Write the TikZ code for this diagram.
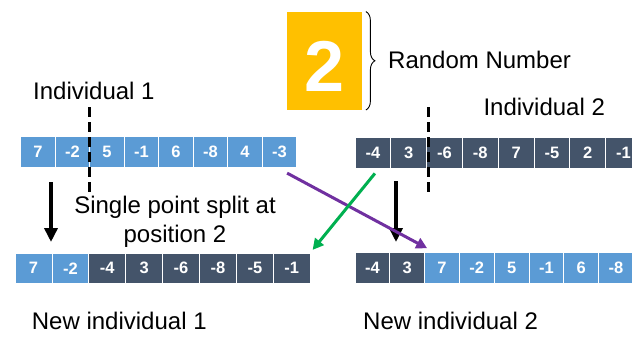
\documentclass[tikz,border=0pt]{standalone}
\usepackage{fontspec}
\setmainfont{Liberation Sans}
\usetikzlibrary{arrows.meta,decorations.pathreplacing}

\definecolor{lightcell}{HTML}{5B9BD5}
\definecolor{darkcell}{HTML}{44546A}
\definecolor{randyellow}{HTML}{FFC000}
\definecolor{crossgreen}{HTML}{00B050}
\definecolor{crosspurple}{HTML}{7030A0}

\tikzset{
    genecell/.style={draw=white, line width=0.8pt, text=white, inner sep=0pt,
        minimum height=31pt, font=\fontsize{16.5}{18}\selectfont\bfseries},
    bluebox/.style={genecell, fill=lightcell},
    slatebox/.style={genecell, fill=darkcell},
    txt/.style={font=\fontsize{24}{29}\selectfont, inner sep=0pt},
    cutline/.style={line width=3pt, dash pattern=on 10pt off 5pt},
    droparrow/.style={line width=4pt, -{Triangle[width=13pt,length=14pt]}},
    crossarrow/.style={line width=3pt, -{Triangle[width=11pt,length=11pt]}},
}

\begin{document}
\begin{tikzpicture}[x=1pt, y=-1pt]
    \useasboundingbox (0,0) rectangle (632,346);

    % Individual 1
    \foreach \i/\val in {1/7, 2/-2, 3/5, 4/-1, 5/6, 6/-8, 7/4, 8/-3} {
        \node[bluebox, minimum width=34.5pt] (a\i) at (3.45+34.5*\i, 152.2) {\val};
    }
    \node[txt, anchor=base west] (ind1) at (33,99) {Individual 1};

    % Individual 2
    \foreach \i/\val in {1/-4, 2/3, 3/-6, 4/-8, 5/7, 6/-5, 7/2, 8/-1} {
        \node[slatebox, minimum width=35.8pt] (b\i) at (337.1+35.8*\i, 152.5) {\val};
    }
    \node[txt, anchor=base west] (ind2) at (483.3,115) {Individual 2};

    % Random number
    \node[fill=randyellow, minimum width=75pt, minimum height=98pt, inner sep=0pt,
        text=white, text height=62pt, font=\fontsize{72}{72}\selectfont\bfseries]
        (rand) at (324.2,60.8) {2};
    \draw[line width=0.9pt, decorate, decoration={brace, amplitude=9pt}]
        ([xshift=4]rand.north east) -- ([xshift=4]rand.south east);
    \node[txt, anchor=base west] (randlabel) at (388,68.3) {Random Number};

    % New individual 1
    \foreach \i/\val/\kind in {1/7/bluebox, 2/-2/bluebox, 3/-4/slatebox, 4/3/slatebox,
        5/-6/slatebox, 6/-8/slatebox, 7/-5/slatebox, 8/-1/slatebox} {
        \node[\kind, minimum width=36.9pt, minimum height=30pt] (c\i) at (-3.45+36.9*\i, 268.3) {\val};
    }
    \node[txt, anchor=base west] (new1) at (31.7,329.3) {New individual 1};

    % New individual 2
    \foreach \i/\val/\kind in {1/-4/slatebox, 2/3/slatebox, 3/7/bluebox, 4/-2/bluebox,
        5/5/bluebox, 6/-1/bluebox, 7/6/bluebox, 8/-8/bluebox} {
        \node[\kind, minimum width=34.8pt, minimum height=30.6pt] (d\i) at (337.6+34.8*\i, 268) {\val};
    }
    \node[txt, anchor=base west] (new2) at (363,329.3) {New individual 2};

    % split points
    \coordinate (cut1top) at (89,107);
    \coordinate (cut1bot) at (89,196);
    \coordinate (cut2top) at (428.3,107);
    \coordinate (cut2bot) at (428.3,196);
    \draw[cutline] (cut1top) -- (cut1bot);
    \draw[cutline] (cut2top) -- (cut2bot);
    \node[txt, anchor=north, align=center] (splitnote) at (175,195.8)
        {Single point split at\\position 2};

    % kept heads
    \coordinate (keep1a) at (51,182);
    \coordinate (keep1b) at (51,242);
    \coordinate (keep2a) at (396,181);
    \coordinate (keep2b) at (396,242);
    \draw[droparrow] (keep1a) -- (keep1b);
    \draw[droparrow] (keep2a) -- (keep2b);

    % swapped tails
    \draw[crossarrow, crosspurple] ([shift={(-10,5)}]a8.south east) -- ([shift={(3,-4)}]d3.north west);
    \draw[crossarrow, crossgreen] ([shift={(2,5)}]b1.south) -- ([shift={(2,-3)}]c8.north east);
\end{tikzpicture}
\end{document}
